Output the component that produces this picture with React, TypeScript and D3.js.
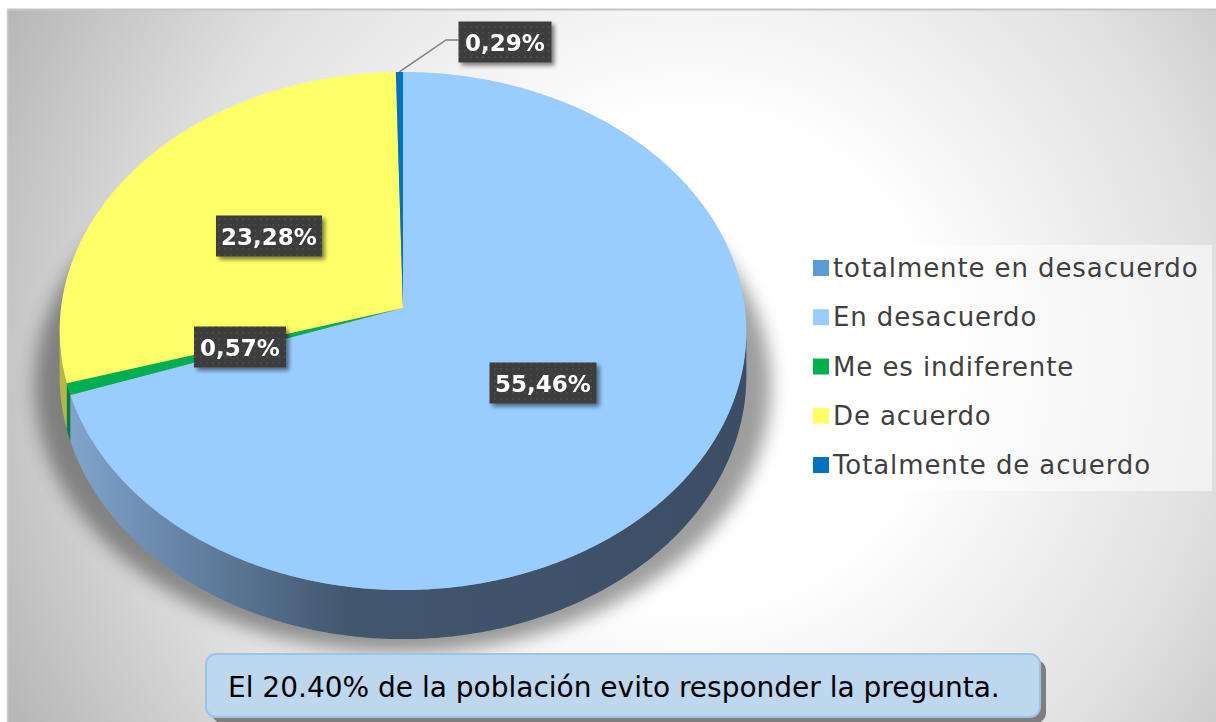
import React from "react";
import * as d3 from "d3";

const categories = [
  "totalmente en desacuerdo",
  "En desacuerdo",
  "Me es indiferente",
  "De acuerdo",
  "Totalmente de acuerdo",
];
const values = [0, 55.46, 0.57, 23.28, 0.29];
const valueLabels = ["", "55,46%", "0,57%", "23,28%", "0,29%"];
const colors = ["#5B9BD5", "#99CCFF", "#00B050", "#FFFF66", "#0070C0"];
const sideColors = ["#3f6d99", "url(#sideBlue)", "#0a7f3c", "#b5b548", "#004f88"];
const note = "El 20.40% de la población evito responder la pregunta.";

const W = 1216;
const H = 722;
const CX = 403;
const CY = 308;
const RX = 342;
const RY = 257;
const PERSP = 0.0888;
const DEPTH = 44.7;

function proj(theta: number, h: number): [number, number] {
  const u = Math.sin(theta);
  const v = -Math.cos(theta);
  const k = 1 / (1 - PERSP * v);
  return [CX + RX * u * k, CY + RY * v * k + h * DEPTH * k];
}

function arcPts(a0: number, a1: number, h: number): [number, number][] {
  const n = Math.max(2, Math.ceil(((a1 - a0) * 180) / Math.PI / 0.5));
  const pts: [number, number][] = [];
  for (let i = 0; i <= n; i++) pts.push(proj(a0 + ((a1 - a0) * i) / n, h));
  return pts;
}

const line = d3.line<[number, number]>();

// label box geometry (centers)
const labelPos: Record<number, { x: number; y: number; w: number }> = {
  1: { x: 543, y: 383, w: 107 },
  2: { x: 240, y: 347, w: 92 },
  3: { x: 269, y: 236, w: 106 },
  4: { x: 505, y: 42, w: 93 },
};

export default function App() {
  const pie = d3
    .pie<number>()
    .sort(null)
    .startAngle(0)
    .endAngle(2 * Math.PI)(values);

  const visMin = Math.acos(-PERSP);
  const visMax = 2 * Math.PI - visMin;

  const legendY = d3
    .scalePoint<string>()
    .domain(categories)
    .range([268, 465]);

  return (
    <svg
      width={W}
      height={H}
      style={{ position: "absolute", left: 0, top: 0 }}
      xmlns="http://www.w3.org/2000/svg"
    >
      <defs>
        <radialGradient id="bg" gradientUnits="userSpaceOnUse" cx={690} cy={360} r={760}>
          <stop offset="0" stopColor="#ffffff" />
          <stop offset="0.32" stopColor="#ffffff" />
          <stop offset="0.7" stopColor="#e0e0e0" />
          <stop offset="1" stopColor="#b8b8b8" />
        </radialGradient>
        <linearGradient id="sideBlue" gradientUnits="userSpaceOnUse" x1={60} y1={0} x2={747} y2={0}>
          <stop offset="0" stopColor="#82a7cf" />
          <stop offset="0.22" stopColor="#5f7c9c" />
          <stop offset="0.42" stopColor="#42566e" />
          <stop offset="1" stopColor="#3b4e65" />
        </linearGradient>
        <filter id="pieShadow" x="-20%" y="-20%" width="140%" height="140%">
          <feGaussianBlur stdDeviation="9" />
        </filter>
        <filter id="boxShadow" x="-20%" y="-20%" width="150%" height="150%">
          <feGaussianBlur in="SourceAlpha" stdDeviation="2" />
          <feOffset dx="3" dy="3" result="b" />
          <feComponentTransfer>
            <feFuncA type="linear" slope="0.5" />
          </feComponentTransfer>
          <feMerge>
            <feMergeNode />
            <feMergeNode in="SourceGraphic" />
          </feMerge>
        </filter>
        <pattern id="dots" width="6" height="6" patternUnits="userSpaceOnUse">
          <rect width="6" height="6" fill="#3d3d3d" />
          <circle cx="3" cy="3" r="0.8" fill="#555555" />
        </pattern>
      </defs>

      <rect x={0} y={0} width={W} height={H} fill="#ffffff" />
      <rect x={7} y={9} width={W - 7} height={H - 9} fill="url(#bg)" />
      <line x1={7} y1={9.5} x2={W} y2={9.5} stroke="#c6c6c6" strokeWidth={2} />
      <line x1={7.5} y1={9} x2={7.5} y2={H} stroke="#cfcfcf" strokeWidth={1.5} />

      {/* pie shadow */}
      <ellipse cx={CX} cy={386} rx={368} ry={266} fill="#000" opacity={0.38} filter="url(#pieShadow)" />

      {/* side walls */}
      {pie.map((d, i) => {
        const a0 = Math.max(d.startAngle, visMin);
        const a1 = Math.min(d.endAngle, visMax);
        if (a1 <= a0 || d.value === 0) return null;
        const top = arcPts(a0, a1, 0);
        const bot = arcPts(a0, a1, 1).reverse();
        return (
          <path key={"s" + i} d={line([...top, ...bot]) + "Z"} fill={sideColors[i]} />
        );
      })}

      {/* top surface */}
      {pie.map((d, i) => {
        if (d.value === 0) return null;
        const pts = arcPts(d.startAngle, d.endAngle, 0);
        return (
          <path key={"t" + i} d={line([[CX, CY], ...pts]) + "Z"} fill={colors[i]} />
        );
      })}

      {/* leader line for small top slice */}
      {(() => {
        const d = pie[4];
        const [x0, y0] = proj((d.startAngle + d.endAngle) / 2, 0);
        const lp = labelPos[4];
        return (
          <polyline
            points={`${x0},${y0} ${446},${lp.y - 2} ${lp.x - lp.w / 2},${lp.y - 2}`}
            fill="none"
            stroke="#7f7f7f"
            strokeWidth={1.5}
          />
        );
      })()}

      {/* data labels */}
      {pie.map((d, i) => {
        const lp = labelPos[i];
        if (!lp) return null;
        return (
          <g key={"l" + i} filter="url(#boxShadow)">
            <rect x={lp.x - lp.w / 2} y={lp.y - 20.5} width={lp.w} height={41} fill="url(#dots)" />
            <text
              x={lp.x}
              y={lp.y + 9}
              textAnchor="middle"
              fill="#ffffff"
              fontFamily="'DejaVu Sans', sans-serif"
              fontWeight="bold"
              fontSize={23}
            >
              {valueLabels[i]}
            </text>
          </g>
        );
      })}

      {/* legend */}
      <rect x={798} y={245} width={414} height={246} fill="#ffffff" opacity={0.55} />
      {categories.map((c, i) => (
        <g key={"lg" + i}>
          <rect x={813} y={(legendY(c) as number) - 8} width={16} height={16} fill={colors[i]} />
          <text
            x={833}
            y={(legendY(c) as number) + 9}
            fill="#404040"
            fontFamily="'DejaVu Sans', sans-serif"
            fontSize={26}
            letterSpacing={0.9}
          >
            {c}
          </text>
        </g>
      ))}

      {/* callout */}
      <rect x={212} y={660} width={834} height={63} rx={10} fill="#7f7f7f" />
      <rect x={206} y={654} width={834} height={63} rx={10} fill="#bdd7ee" stroke="#9dc3e6" strokeWidth={2} />
      <text
        x={228}
        y={697}
        fill="#000000"
        fontFamily="'DejaVu Sans', sans-serif"
        fontSize={28}
      >
        {note}
      </text>
    </svg>
  );
}
